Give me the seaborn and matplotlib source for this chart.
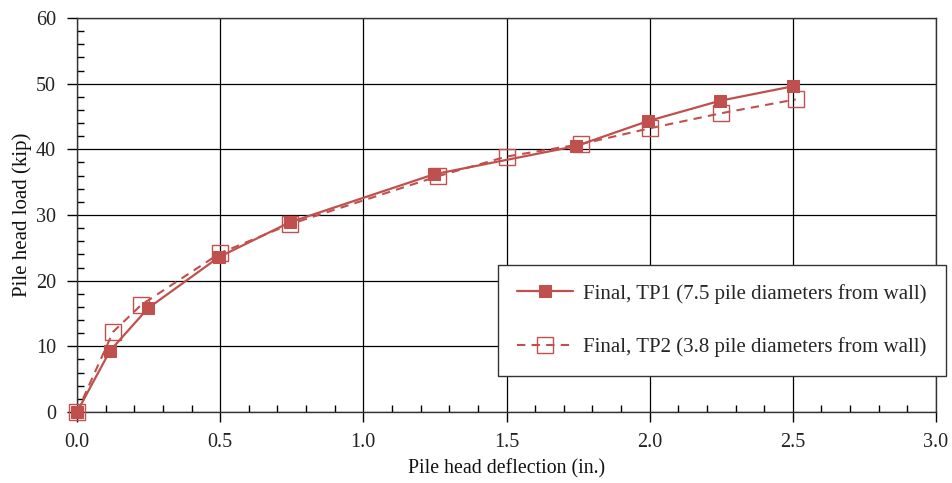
import matplotlib
matplotlib.use("Agg")
import matplotlib.pyplot as plt
import seaborn as sns
import pandas as pd
from matplotlib.ticker import MultipleLocator

# Data
tp1_x = [0.0, 0.115, 0.248, 0.496, 0.744, 1.247, 1.743, 1.994, 2.246, 2.50]
tp1_y = [0.0, 9.3, 15.8, 23.6, 28.9, 36.2, 40.5, 44.3, 47.4, 49.6]
tp2_x = [0.0, 0.126, 0.224, 0.50, 0.744, 1.26, 1.50, 1.76, 2.0, 2.25, 2.51]
tp2_y = [0.0, 12.2, 16.3, 24.2, 28.6, 35.9, 38.9, 40.8, 43.2, 45.5, 47.6]
label1 = "Final, TP1 (7.5 pile diameters from wall)"
label2 = "Final, TP2 (3.8 pile diameters from wall)"

sns.set_theme(style="white")
plt.rcParams['font.family'] = ['Liberation Serif', 'DejaVu Serif']

color = "#c0504d"
fig = plt.figure(figsize=(9.53, 4.83), dpi=100)
ax = fig.add_axes([77/953, 1-412/483, (936-77)/953, (412-18)/483])

df1 = pd.DataFrame({"x": tp1_x, "y": tp1_y})
df2 = pd.DataFrame({"x": tp2_x, "y": tp2_y})

sns.lineplot(data=df1, x="x", y="y", ax=ax, sort=False, color=color, lw=1.6,
             marker="s", markersize=8.5, markerfacecolor=color, markeredgecolor=color,
             label=label1, zorder=4, clip_on=False)
sns.lineplot(data=df2, x="x", y="y", ax=ax, sort=False, color=color, lw=1.5,
             linestyle=(0, (4, 3)), marker="s", markersize=11.5, markerfacecolor="none",
             markeredgecolor=color, markeredgewidth=1.0, label=label2, zorder=3,
             clip_on=False)

ax.set_xlim(0, 3.0)
ax.set_ylim(0, 60)
ax.xaxis.set_major_locator(MultipleLocator(0.5))
ax.xaxis.set_minor_locator(MultipleLocator(0.1))
ax.yaxis.set_major_locator(MultipleLocator(10))
ax.yaxis.set_minor_locator(MultipleLocator(2))
ax.set_xticks(ax.get_xticks())
ax.set_xticklabels([f"{v:.1f}" for v in ax.get_xticks()])
ax.set_xlim(0, 3.0)
ax.grid(True, which="major", color="black", lw=0.9)
for s in ax.spines.values():
    s.set_color("#333333")
    s.set_linewidth(1.0)
    s.set_visible(True)
ax.tick_params(which="major", direction="out", length=7, width=1, color="black",
               labelsize=14.5, left=True, bottom=True, pad=8)
ax.tick_params(which="minor", direction="in", length=5, width=1, color="black",
               left=True, bottom=True)
ax.tick_params(axis="both", which="major", labelcolor="#222222")

ax.set_xlabel("Pile head deflection (in.)", fontsize=14.3, color="#111111", labelpad=5)
ax.set_ylabel("Pile head load (kip)", fontsize=15, color="#111111", labelpad=3)

leg = ax.legend(loc="upper left", bbox_to_anchor=(498/953, 1-265/483),
                bbox_transform=fig.transFigure, fontsize=15, frameon=True,
                fancybox=False, edgecolor="#333333", framealpha=1,
                handlelength=2.7, handletextpad=0.5, labelspacing=1.6,
                borderpad=0.9, borderaxespad=0)
leg.get_frame().set_linewidth(1.0)
leg.set_zorder(10)

fig.savefig("out.png", dpi=100, facecolor="white")
